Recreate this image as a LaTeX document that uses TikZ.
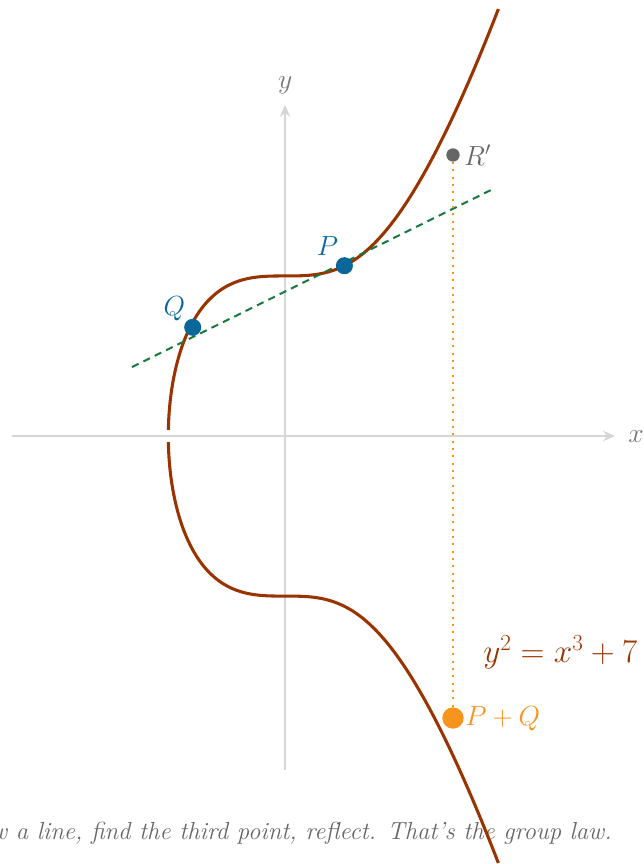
\documentclass[tikz,border=0pt]{standalone}
\usepackage{tikz}
\usetikzlibrary{arrows.meta,positioning,calc}
\definecolor{ecCurve}{HTML}{993300}
\definecolor{ecBlue}{HTML}{09679A}
\definecolor{ecGreen}{HTML}{17793D}
\definecolor{ecOrange}{HTML}{F7941D}
\definecolor{ecGrey}{HTML}{666666}
\definecolor{ecLabel}{HTML}{777777}
\definecolor{ecAxis}{HTML}{D6D6D6}

\begin{document}
\begin{tikzpicture}[x=45.75pt,y=45.375pt,
  font=\fontsize{21}{24}\selectfont,
  axis/.style={draw=ecAxis,line width=1.1pt,-{Stealth[length=9pt,width=8pt,inset=3pt,fill=ecAxis]}},
  curve/.style={draw=ecCurve,line width=2.3pt},
  secant/.style={draw=ecGreen,line width=1.5pt,dash pattern=on 5.5pt off 4pt},
  drop/.style={draw=ecOrange,line width=1.5pt,dash pattern=on 1.5pt off 4pt},
  ptdot/.style={circle,fill=ecBlue,inner sep=0pt,minimum size=12.8pt},
  lb/.style={inner sep=0pt,anchor=base west}]

\useasboundingbox (-4.672,-7.074) rectangle (5.885,7.207);

% axes
\coordinate (xl) at (-4.475,0);
\coordinate (xr) at ( 5.41,0);
\coordinate (yb) at (0,-5.52);
\coordinate (yt) at (0, 5.471);
\draw[axis] (xl) -- (xr);
\draw[axis] (yb) -- (yt);
\node[lb,text=ecLabel] (xlab) at (5.623,-0.099) {$x$};
\node[lb,text=ecLabel] (ylab) at (-0.115,5.752) {$y$};

\node[font=\fontsize{18.5}{22}\selectfont\itshape,text=ecGrey,anchor=base east,inner sep=0pt]
  (cap) at (5.36,-6.661) {Draw a line, find the third point, reflect. That’s the group law.};

% the two branches of y^2 = x^3 + 7
\draw[curve] plot[domain=0.1:2,samples=40] ({-pow(7-\x*\x,1/3)},\x)
  -- plot[domain=-1.44225:3.5,samples=200] (\x,{sqrt(\x*\x*\x+7)});
\draw[curve] plot[domain=0.1:2,samples=40] ({-pow(7-\x*\x,1/3)},-\x)
  -- plot[domain=-1.44225:3.5,samples=200] (\x,{-sqrt(\x*\x*\x+7)});

% points
\coordinate (s1) at (-2.508,1.140);
\coordinate (s2) at ( 3.443,4.099);
\draw[secant] (s1) -- (s2);

\node[circle,fill=ecGrey,inner sep=0pt,minimum size=10pt] (Rp) at (2.754,4.645) {};
\node[circle,fill=ecOrange,inner sep=0pt,minimum size=16pt] (PQ) at (2.754,-4.661) {};
\draw[drop] (Rp) -- (PQ);

\node[ptdot] (P) at (0.974,2.815) {};
\node[ptdot] (Q) at (-1.513,1.797) {};

% labels
\node[lb,text=ecBlue] (Plab) at (0.519,2.992) {$P$};
\node[lb,text=ecBlue] (Qlab) at (-1.995,2.0) {$Q$};
\node[lb,text=ecGrey] (Rlab) at (2.934,4.479) {$R'$};
\node[lb,text=ecOrange] (PQlab) at (2.951,-4.777) {$P+Q$};
\node[lb,text=ecCurve,font=\fontsize{23}{26}\selectfont] (eq) at (3.246,-3.747) {$y^2=x^3+7$};
\end{tikzpicture}
\end{document}
